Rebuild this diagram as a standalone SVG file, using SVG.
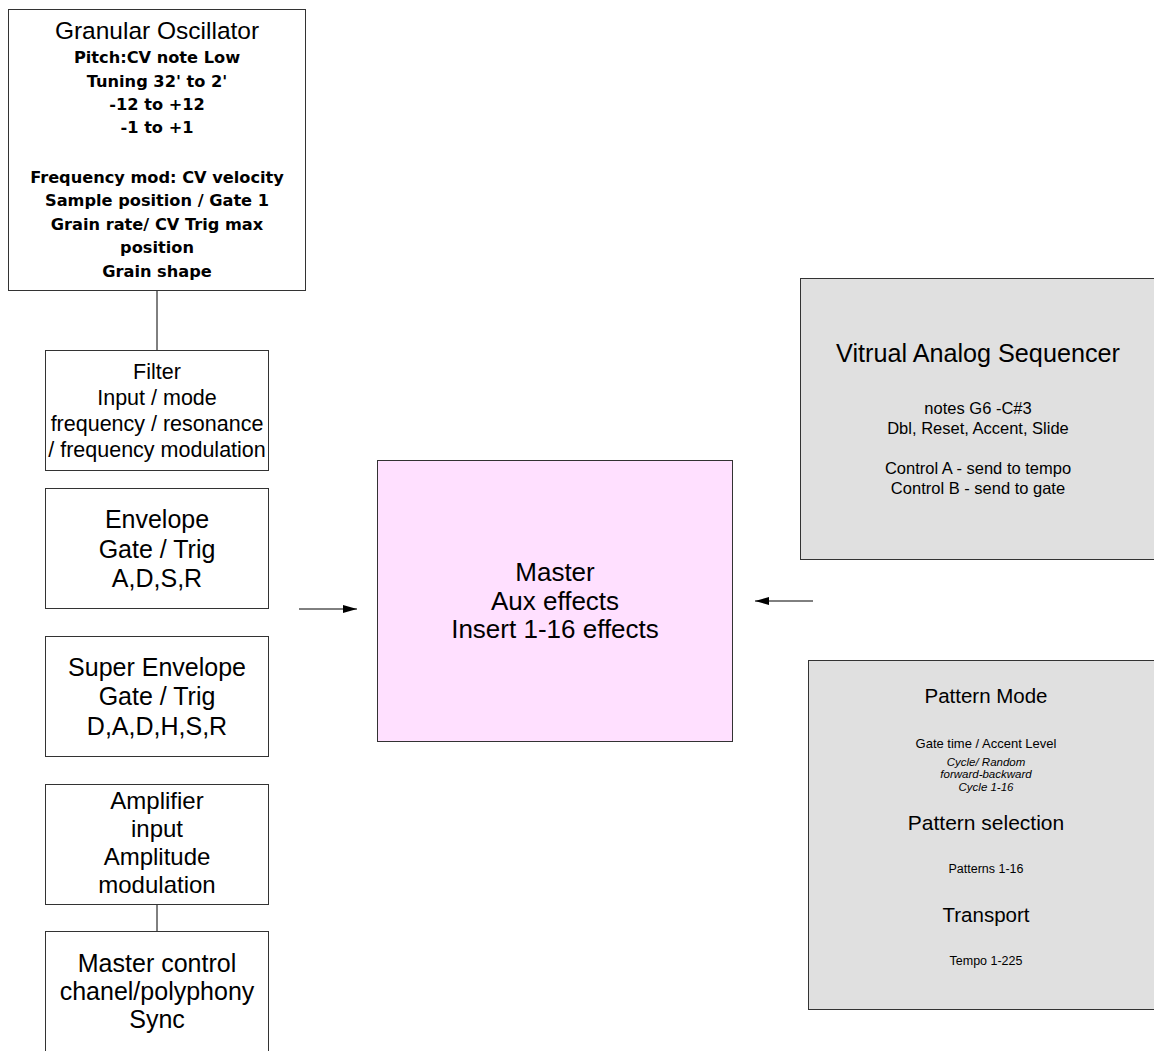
<svg xmlns="http://www.w3.org/2000/svg" width="1154" height="1051" viewBox="0 0 1154 1051">
<defs>
<style>
.box{fill:#ffffff;stroke:#333;stroke-width:1}
.gray{fill:#e0e0e0;stroke:#333;stroke-width:1}
.pink{fill:#ffe0ff;stroke:#333;stroke-width:1}
text{font-family:"Liberation Sans",Arial,sans-serif;fill:#000;text-anchor:middle}
.b{font-family:"DejaVu Sans","Liberation Sans",sans-serif;font-weight:bold;font-size:16.2px}
.conn{stroke:#000;stroke-width:1;fill:none}
</style>
<marker id="ah" viewBox="0 0 10 10" refX="10" refY="5" markerWidth="14" markerHeight="8" markerUnits="userSpaceOnUse" orient="auto" preserveAspectRatio="none">
<path d="M0,0 L10,5 L0,10 z" fill="#000"/>
</marker>
</defs>
<rect width="1154" height="1051" fill="#fff"/>
<g id="connectors">
<line class="conn" x1="157" y1="290" x2="157" y2="350"/>
<line class="conn" x1="157" y1="905" x2="157" y2="931"/>
<line class="conn" x1="299" y1="609" x2="357" y2="609" marker-end="url(#ah)"/>
<line class="conn" x1="813" y1="601" x2="755" y2="601" stroke="#333" marker-end="url(#ah)"/>
</g>
<g id="granular">
<rect class="box" x="8.5" y="9.5" width="297" height="281"/>
<text x="157" y="39" font-size="24.5">Granular Oscillator</text>
<text class="b" x="157" y="63">Pitch:CV note Low</text>
<text class="b" x="157" y="87">Tuning 32' to 2'</text>
<text class="b" x="157" y="110">-12 to +12</text>
<text class="b" x="157" y="133">-1 to +1</text>
<text class="b" x="157" y="183">Frequency mod: CV velocity</text>
<text class="b" x="157" y="206">Sample position / Gate 1</text>
<text class="b" x="157" y="230">Grain rate/ CV Trig max</text>
<text class="b" x="157" y="253">position</text>
<text class="b" x="157" y="277">Grain shape</text>
</g>
<g id="filter">
<rect class="box" x="45.5" y="350.5" width="223" height="120"/>
<text x="157" y="379" font-size="21.5">Filter</text>
<text x="157" y="405" font-size="21.5">Input / mode</text>
<text x="157" y="431" font-size="21.5">frequency / resonance</text>
<text x="157" y="457" font-size="21.5">/ frequency modulation</text>
</g>
<g id="envelope">
<rect class="box" x="45.5" y="488.5" width="223" height="120"/>
<text x="157" y="528" font-size="25">Envelope</text>
<text x="157" y="558" font-size="25">Gate / Trig</text>
<text x="157" y="587" font-size="25">A,D,S,R</text>
</g>
<g id="superenvelope">
<rect class="box" x="45.5" y="636.5" width="223" height="120"/>
<text x="157" y="676" font-size="25">Super Envelope</text>
<text x="157" y="705" font-size="25">Gate / Trig</text>
<text x="157" y="735" font-size="25">D,A,D,H,S,R</text>
</g>
<g id="amplifier">
<rect class="box" x="45.5" y="784.5" width="223" height="120"/>
<text x="157" y="809" font-size="24">Amplifier</text>
<text x="157" y="837" font-size="24">input</text>
<text x="157" y="865" font-size="24">Amplitude</text>
<text x="157" y="893" font-size="24">modulation</text>
</g>
<g id="mastercontrol">
<rect class="box" x="45.5" y="931.5" width="223" height="130"/>
<text x="157" y="972" font-size="25">Master control</text>
<text x="157" y="1000" font-size="25">chanel/polyphony</text>
<text x="157" y="1028" font-size="25">Sync</text>
</g>
<g id="master">
<rect class="pink" x="377.5" y="460.5" width="355" height="281"/>
<text x="555" y="581" font-size="26">Master</text>
<text x="555" y="610" font-size="26">Aux effects</text>
<text x="555" y="638" font-size="26">Insert 1-16 effects</text>
</g>
<g id="sequencer">
<rect class="gray" x="800.5" y="278.5" width="360" height="281"/>
<text x="978" y="362" font-size="25.2">Vitrual Analog Sequencer</text>
<text x="978" y="414" font-size="16.5">notes G6 -C#3</text>
<text x="978" y="434" font-size="16.5">Dbl, Reset, Accent, Slide</text>
<text x="978" y="474" font-size="16.5">Control A - send to tempo</text>
<text x="978" y="494" font-size="16.5">Control B - send to gate</text>
</g>
<g id="pattern">
<rect class="gray" x="808.5" y="660.5" width="360" height="349"/>
<text x="986" y="703" font-size="20.5">Pattern Mode</text>
<text x="986" y="748" font-size="13">Gate time / Accent Level</text>
<text x="986" y="766" font-size="11.5" font-style="italic">Cycle/ Random</text>
<text x="986" y="778" font-size="11.5" font-style="italic">forward-backward</text>
<text x="986" y="791" font-size="11.5" font-style="italic">Cycle 1-16</text>
<text x="986" y="830" font-size="21">Pattern selection</text>
<text x="986" y="873" font-size="12.5">Patterns 1-16</text>
<text x="986" y="922" font-size="20.5">Transport</text>
<text x="986" y="965" font-size="12.5">Tempo 1-225</text>
</g>
</svg>
